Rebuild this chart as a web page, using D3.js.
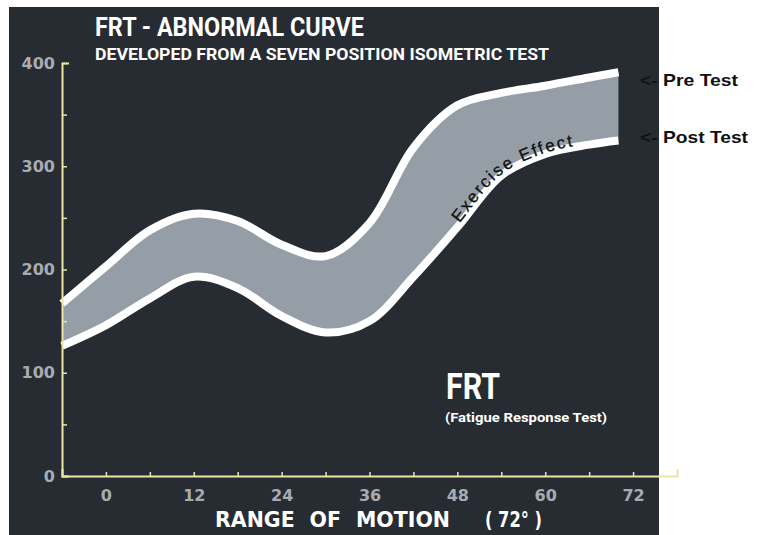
<!DOCTYPE html>
<html>
<head>
<meta charset="utf-8">
<script src="https://cdn.jsdelivr.net/npm/d3@7"></script>
<style>
  body { margin: 0; background: #fff; }
  svg { display: block; }
  .tick text { font-family: "DejaVu Sans", sans-serif; font-weight: bold; font-size: 16px; fill: #a7acb2; }
</style>
</head>
<body>
<div id="chart"></div>
<script>
// range of motion (degrees) and torque readings
const positions = [-6, 0, 6, 12, 18, 24, 30, 36, 42, 48, 54, 60, 66, 70];
const preTest  = [167, 203, 238, 254, 247, 224, 213, 245, 318, 359, 371, 378, 386, 391];
const postTest = [126, 146, 172, 193, 182, 155, 139, 150, 193, 241, 291, 312, 321, 325];
const yTicks = [0, 50, 100, 150, 200, 250, 300, 350, 400];
const xTicks = [0, 6, 12, 18, 24, 30, 36, 42, 48, 54, 60, 66, 72];

const width = 763, height = 535;
const axisColor = "#ece6a6";

const svg = d3.select("#chart").append("svg")
  .attr("width", width)
  .attr("height", height);

svg.append("rect")
  .attr("x", 9).attr("y", 7)
  .attr("width", 650).attr("height", 528)
  .attr("fill", "#272c33");

const x = d3.scaleLinear().domain([-6, 78]).range([62, 677]);
const y = d3.scaleLinear().domain([0, 400]).range([476, 63]);

const data = positions.map((p, i) => ({ p, pre: preTest[i], post: postTest[i] }));
const curve = d3.curveCatmullRom.alpha(0.5);

// band between the two tests
svg.append("path")
  .datum(data)
  .attr("fill", "#959ea7")
  .attr("d", d3.area()
    .x(d => x(d.p))
    .y0(d => y(d.post))
    .y1(d => y(d.pre))
    .curve(curve));

const line = key => d3.line()
  .x(d => x(d.p))
  .y(d => y(d[key]))
  .curve(curve);

svg.append("path")
  .datum(data)
  .attr("fill", "none")
  .attr("stroke", "#fff")
  .attr("stroke-width", 8)
  .attr("d", line("pre"));

const postPath = svg.append("path")
  .datum(data)
  .attr("id", "postLine")
  .attr("fill", "none")
  .attr("stroke", "#fff")
  .attr("stroke-width", 8)
  .attr("d", line("post"));

// find where along the post curve the label starts
const node = postPath.node();
const total = node.getTotalLength();
let start = 0;
for (let l = 0; l < total; l += 1) {
  if (node.getPointAtLength(l).x >= 460) { start = l; break; }
}

svg.append("text")
  .attr("font-family", "Liberation Sans, Arial, sans-serif")
  .attr("font-size", 17)
  .attr("letter-spacing", 2)
  .attr("fill", "#111")
  .attr("stroke", "#111")
  .attr("stroke-width", 0.3)
  .attr("dy", -1)
  .append("textPath")
  .attr("href", "#postLine")
  .attr("startOffset", start)
  .text("Exercise Effect");

// axes
const yAxis = svg.append("g")
  .attr("transform", `translate(${x(-6)},0)`)
  .call(d3.axisLeft(y)
    .tickValues(yTicks)
    .tickSize(-5)
    .tickSizeOuter(-7)
    .tickPadding(7)
    .tickFormat(d => d % 100 === 0 ? d : ""));

const xAxis = svg.append("g")
  .attr("transform", `translate(0,${y(0)})`)
  .call(d3.axisBottom(x)
    .tickValues(xTicks)
    .tickSize(-4)
    .tickSizeOuter(-7)
    .tickPadding(14)
    .tickFormat(d => d % 12 === 0 ? d : ""));

[xAxis, yAxis].forEach(g => {
  g.select(".domain").attr("stroke", axisColor).attr("stroke-width", 2);
  g.selectAll(".tick line").attr("stroke", axisColor).attr("stroke-width", 1.5);
});

// titles
svg.append("text")
  .attr("x", 95).attr("y", 36)
  .attr("font-family", "Roboto, sans-serif")
  .attr("font-weight", "bold")
  .attr("font-size", 25)
  .attr("fill", "#fff")
  .attr("textLength", 269)
  .attr("lengthAdjust", "spacingAndGlyphs")
  .text("FRT - ABNORMAL CURVE");

svg.append("text")
  .attr("x", 95).attr("y", 60)
  .attr("font-family", "Roboto, sans-serif")
  .attr("font-weight", "bold")
  .attr("font-size", 17)
  .attr("fill", "#fff")
  .attr("textLength", 454)
  .attr("lengthAdjust", "spacingAndGlyphs")
  .text("DEVELOPED FROM A SEVEN POSITION ISOMETRIC TEST");

svg.append("text")
  .attr("x", 640).attr("y", 86)
  .attr("font-family", "Liberation Sans, Arial, sans-serif")
  .attr("font-weight", "bold")
  .attr("font-size", 17)
  .attr("fill", "#111")
  .attr("textLength", 98)
  .attr("lengthAdjust", "spacingAndGlyphs")
  .text("<- Pre Test");

svg.append("text")
  .attr("x", 640).attr("y", 143)
  .attr("font-family", "Liberation Sans, Arial, sans-serif")
  .attr("font-weight", "bold")
  .attr("font-size", 17)
  .attr("fill", "#111")
  .attr("textLength", 108)
  .attr("lengthAdjust", "spacingAndGlyphs")
  .text("<- Post Test");

svg.append("text")
  .attr("x", 446).attr("y", 399)
  .attr("font-family", "Roboto, sans-serif")
  .attr("font-weight", "bold")
  .attr("font-size", 36)
  .attr("fill", "#fff")
  .attr("textLength", 54)
  .attr("lengthAdjust", "spacingAndGlyphs")
  .text("FRT");

svg.append("text")
  .attr("x", 445).attr("y", 422)
  .attr("font-family", "Roboto, sans-serif")
  .attr("font-weight", "bold")
  .attr("font-size", 13)
  .attr("fill", "#fff")
  .attr("textLength", 162)
  .attr("lengthAdjust", "spacingAndGlyphs")
  .text("(Fatigue Response Test)");

svg.append("text")
  .attr("x", 215).attr("y", 527)
  .attr("font-family", "DejaVu Sans, sans-serif")
  .attr("font-weight", "bold")
  .attr("font-size", 21)
  .attr("fill", "#fff")
  .attr("word-spacing", 8)
  .attr("textLength", 235)
  .attr("lengthAdjust", "spacingAndGlyphs")
  .text("RANGE OF MOTION");

svg.append("text")
  .attr("x", 485).attr("y", 527)
  .attr("font-family", "DejaVu Sans, sans-serif")
  .attr("font-weight", "bold")
  .attr("font-size", 21)
  .attr("fill", "#fff")
  .attr("textLength", 57)
  .attr("lengthAdjust", "spacingAndGlyphs")
  .text("( 72° )");
</script>
</body>
</html>
